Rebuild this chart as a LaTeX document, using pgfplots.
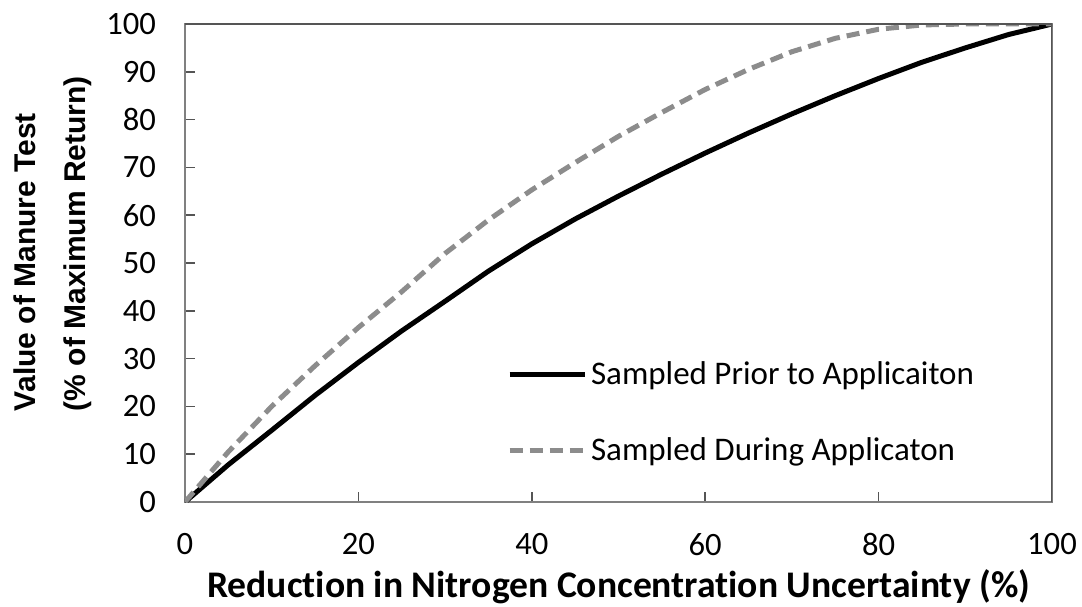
\documentclass[border=0pt]{standalone}
\usepackage{fontspec}
\setmainfont{Carlito}[Ligatures={NoCommon}]
\newfontfamily\arialfont{Liberation Sans}
\usepackage{pgfplots}
\pgfplotsset{compat=1.18}

\definecolor{dashgray}{RGB}{140,140,140}
\definecolor{framegray}{RGB}{128,128,128}
\definecolor{framedark}{RGB}{85,85,85}

\begin{document}
\begin{tikzpicture}
% page frame (1 px = 0.5pt)
\path[use as bounding box] (-92.5pt,-52pt) rectangle (448.5pt,251pt);
\begin{axis}[
    scale only axis,
    width=433.5pt, height=239pt,
    xmin=0, xmax=100, ymin=0, ymax=100,
    xtick={0,20,...,100}, ytick={0,10,...,100},
    tick align=inside,
    xtick pos=bottom, ytick pos=left,
    major tick length=5pt,
    tick style={framedark, line width=0.8pt},
    axis line style={framegray, line width=1pt},
    /pgf/number format/assume math mode=true,
    tick label style={font=\fontsize{16.3}{19}\selectfont},
    xticklabel style={yshift=-12pt},
    yticklabel style={xshift=-11pt},
    xlabel={\bfseries Reduction in Nitrogen Concentration Uncertainty (\%)},
    xlabel style={font=\fontsize{18.8}{22}\selectfont, at={(axis description cs:0.5,0)}, anchor=base, yshift=-47.5pt},
    ylabel={Value of Manure Test\\(\% of Maximum Return)},
    ylabel style={font=\arialfont\bfseries\fontsize{15}{25}\selectfont, align=left,
      at={(axis description cs:0,0.5)}, anchor=center, xshift=9.75pt, yshift=66pt},
    legend style={font=\fontsize{16.5}{20}\selectfont, draw=none, fill=none,
      at={(0.371,0.187)}, anchor=west, row sep=21pt, inner sep=0pt,
      legend cell align=left},
    legend image code/.code={\draw[#1] (0pt,0pt) -- (37.5pt,0pt);},
]
\addplot[black, line width=2.5pt, line join=round] coordinates {
(0,0) (5,7.8) (10,15) (15,22.3) (20,29.2) (25,35.8) (30,42) (35,48.3)
(40,54) (45,59.2) (50,64) (55,68.6) (60,73) (65,77.2)
(70,81.2) (75,85) (80,88.6) (85,92) (90,95) (95,97.8) (100,100)};
\addlegendentry{Sampled Prior to Applicaiton}
\addplot[dashgray, line width=2.5pt, dash pattern=on 6.5pt off 3.5pt] coordinates {
(0,0) (5,10.5) (10,20) (15,28.5) (20,36.5) (25,44) (30,52) (35,59) (40,65.3)
(45,71) (50,76.5) (55,81.5) (60,86.3) (65,90.5) (70,94.2) (75,97) (80,98.9)
(85,99.8) (90,100) (100,100)};
\addlegendentry{Sampled During Applicaton}
\draw[framedark, line width=1.5pt] (rel axis cs:0,1) -- (rel axis cs:1,1);
\draw[framedark, line width=1pt] (rel axis cs:1,0) -- (rel axis cs:1,1);
\end{axis}
\end{tikzpicture}
\end{document}
